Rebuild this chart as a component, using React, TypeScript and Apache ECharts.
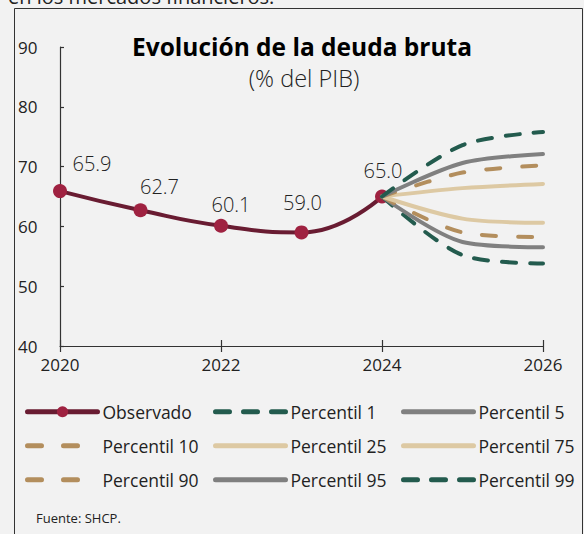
import React, { useEffect, useRef } from "react";
import * as echarts from "echarts";

const years = [2020, 2021, 2022, 2023, 2024];
const observed = [65.9, 62.7, 60.1, 59.0, 65.0];
const projYears = [2024, 2025, 2026];
const p1 = [65.0, 55.2, 53.8];
const p5 = [65.0, 57.4, 56.5];
const p10 = [65.0, 59.0, 58.2];
const p25 = [65.0, 61.3, 60.6];
const p75 = [65.0, 66.4, 67.1];
const p90 = [65.0, 69.0, 70.2];
const p95 = [65.0, 70.6, 72.1];
const p99 = [65.0, 73.6, 75.8];
const yTicks = { min: 40, max: 90, interval: 10 };
const xTicks = { min: 2020, max: 2026, interval: 2 };

const labelOffsets = [[32, -11], [19, -7], [10, -4], [1, -13], [1, -9]];

const FONT = "'Open Sans', 'Noto Sans', sans-serif";
const TXT = "#222222";
const GREEN = "#235b4e";
const GRAY = "#808080";
const TAN = "#b38e5d";
const LIGHT = "#ddc9a3";

export default function App() {
  const ref = useRef<HTMLDivElement>(null);
  useEffect(() => {
    if (!ref.current) return;
    const chart = echarts.init(ref.current, null, { renderer: "svg" });
    const proj = (name: string, vals: number[], color: string, dash: number[] | null) => ({
      name,
      type: "line",
      data: projYears.map((y, i) => [y, vals[i]]),
      smooth: 0.3,
      symbol: "none",
      lineStyle: {
        color,
        width: 4,
        type: dash ? dash : "solid",
        cap: "round",
      },
      itemStyle: { color },
      z: 3,
    });
    const noSym = (name: string) => ({
      name,
      itemStyle: { color: "rgba(0,0,0,0)", borderWidth: 0, opacity: 0 },
    });
    const legendBase = {
      orient: "vertical",
      top: 396,
      itemWidth: 70,
      itemHeight: 14,
      itemGap: 12.5,
      lineStyle: { width: 5, cap: "round" },
      textStyle: { fontFamily: FONT, fontSize: 17.5, color: TXT, lineHeight: 21.5 },
    };
    chart.setOption({
      animation: false,
      backgroundColor: "#f2f2f2",
      textStyle: { fontFamily: FONT },
      title: [
        {
          text: "Evolución de la deuda bruta",
          left: 297,
          top: 29,
          textAlign: "center",
          textStyle: { fontFamily: FONT, fontSize: 24.5, fontWeight: "bold", color: "#000" },
        },
        {
          text: "(% del PIB)",
          left: 299,
          top: 61,
          textAlign: "center",
          textStyle: { fontFamily: FONT, fontSize: 23.5, fontWeight: 300, color: TXT },
        },
      ],
      graphic: [
        {
          type: "rect",
          shape: { x: 14.5, y: 8.5, width: 568, height: 540 },
          style: { fill: "none", stroke: "#333", lineWidth: 1 },
          silent: true,
        },
        {
          type: "text",
          x: 8,
          y: 6,
          style: {
            text: "en los mercados financieros.",
            fontFamily: FONT,
            fontSize: 20,
            fill: TXT,
            verticalAlign: "bottom",
          },
        },
        {
          type: "text",
          x: 36,
          y: 518,
          style: {
            text: "Fuente: SHCP.",
            fontFamily: FONT,
            fontSize: 13,
            fill: TXT,
            verticalAlign: "middle",
          },
        },
      ],
      legend: [
        { ...legendBase, left: 20, data: ["Observado", noSym("Percentil 10"), noSym("Percentil 90")] },
        { ...legendBase, left: 208, data: [noSym("Percentil 1"), noSym("Percentil 25"), noSym("Percentil 95")] },
        { ...legendBase, left: 396, data: [noSym("Percentil 5"), noSym("Percentil 75"), noSym("Percentil 99")] },
      ],
      grid: { left: 60, right: 41, top: 47, bottom: 188 },
      xAxis: [
        {
          type: "value",
          min: xTicks.min,
          max: xTicks.max,
          interval: xTicks.interval,
          position: "bottom",
          splitLine: { show: false },
          axisLine: { show: true, lineStyle: { color: "#333", width: 1.2 } },
          axisTick: { show: true, length: 6, lineStyle: { color: "#333", width: 1.2 } },
          axisLabel: {
            color: TXT,
            fontSize: 17,
            fontFamily: FONT,
            margin: 10,
            formatter: (v: number) => String(v),
          },
        },
        {
          type: "value",
          min: xTicks.min,
          max: xTicks.max,
          interval: xTicks.interval,
          position: "bottom",
          splitLine: { show: false },
          axisLine: { show: false },
          axisTick: { show: true, inside: true, length: 6, lineStyle: { color: "#333", width: 1.2 } },
          axisLabel: { show: false },
        },
      ],
      yAxis: {
        type: "value",
        min: yTicks.min,
        max: yTicks.max,
        interval: yTicks.interval,
        splitLine: { show: false },
        axisLine: { show: true, lineStyle: { color: "#333", width: 1.2 } },
        axisTick: { show: true, inside: true, length: 4, lineStyle: { color: "#333", width: 1.2 } },
        axisLabel: { color: TXT, fontSize: 17, fontFamily: FONT, align: "left", margin: 42 },
      },
      series: [
        {
          name: "Observado",
          type: "line",
          data: years.map((y, i) => ({
            value: [y, observed[i]],
            label: { offset: labelOffsets[i] },
          })),
          smooth: 0.5,
          symbol: "circle",
          symbolSize: 14,
          lineStyle: { color: "#691c32", width: 4 },
          itemStyle: { color: "#9f2241" },
          label: {
            show: true,
            position: "top",
            distance: 0,
            fontFamily: FONT,
            fontSize: 20,
            fontWeight: 300,
            color: TXT,
            formatter: (p: any) => p.value[1].toFixed(1),
          },
          z: 2,
        },
        proj("Percentil 1", p1, GREEN, [14, 14]),
        proj("Percentil 5", p5, GRAY, null),
        proj("Percentil 10", p10, TAN, [14, 22]),
        proj("Percentil 25", p25, LIGHT, null),
        proj("Percentil 75", p75, LIGHT, null),
        proj("Percentil 90", p90, TAN, [14, 22]),
        proj("Percentil 95", p95, GRAY, null),
        proj("Percentil 99", p99, GREEN, [14, 14]),
      ],
    });
    return () => chart.dispose();
  }, []);
  return (
    <div
      ref={ref}
      style={{ position: "fixed", left: 0, top: 0, width: 584, height: 534 }}
    />
  );
}
